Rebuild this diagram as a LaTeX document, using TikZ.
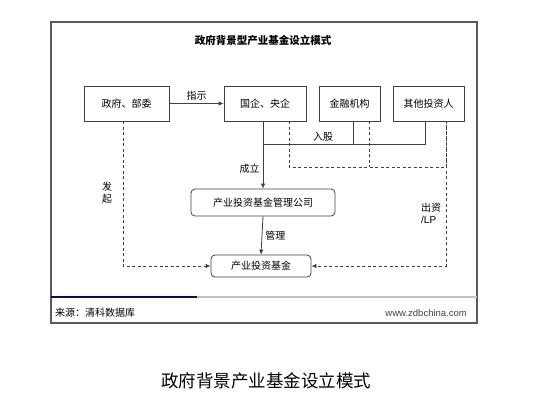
\documentclass[tikz,border=0pt]{standalone}
\usepackage{fontspec}
\setmainfont{Noto Sans CJK SC}
\newfontfamily\urlfont{Liberation Sans}
\usetikzlibrary{positioning, arrows.meta, calc}
\definecolor{linegray}{HTML}{404040}
\definecolor{framegray}{HTML}{5A5A5A}
\definecolor{barnavy}{HTML}{0A0A5E}
\definecolor{bargray}{HTML}{C4C4C4}

\begin{document}
\begin{tikzpicture}[x=1pt, y=-1pt,
    box/.style={draw=linegray, line width=0.8pt, minimum height=35pt, inner sep=0pt, font=\fontsize{10}{12}\selectfont},
    rbox/.style={box, rounded corners=4pt},
    lbl/.style={inner sep=1pt, font=\fontsize{10}{12}\selectfont},
    link/.style={draw=linegray, line width=0.8pt},
    dashlink/.style={link, dash pattern=on 3pt off 2.5pt},
    tip/.style={-{Latex[length=5pt,width=4.5pt]}}
  ]
  \useasboundingbox (0,0) rectangle (537,405);
  \draw[framegray, line width=1.2pt] (51,22) rectangle (477,323);
  \node[font=\bfseries\fontsize{10.5}{12}\selectfont] (title) at (263,41) {政府背景型产业基金设立模式};

  \node[box, minimum width=85pt] (gov) at (126.5,103.5) {政府、部委};
  \node[box, minimum width=82pt] (soe) at (265,103.5) {国企、央企};
  \node[box, minimum width=61pt] (fin) at (349.5,103.5) {金融机构};
  \node[box, minimum width=71pt] (other) at (428.5,103.5) {其他投资人};
  \node[rbox, minimum width=144pt, minimum height=27pt] (mgmt) at (263,202.5) {产业投资基金管理公司};
  \node[rbox, minimum width=100pt, minimum height=22pt] (fund) at (261,266) {产业投资基金};
  \coordinate (split) at (263,144);

  \draw[link, tip] (gov.east) -- node[lbl, above=2pt] {指示} (soe.west);
  \draw[link] ([xshift=-2pt]soe.south) -- (split) -| ([xshift=-3.5pt]other.south);
  \draw[link] ([xshift=3.5pt]fin.south) -- ++(0,23);
  \node[lbl] (rugu) at (323,137) {入股};
  \draw[link, tip] (split) -- node[lbl, left=2pt, pos=0.55] {成立} (mgmt.north);
  \draw[link, tip] (mgmt.south) -- node[lbl, right=2pt] {管理} (fund.north);

  \draw[dashlink] ([xshift=24pt]soe.south) -- ++(0,46) -| ([xshift=17.5pt]other.south);
  \draw[dashlink] ([xshift=19.5pt]fin.south) -- ++(0,46);
  \draw[dashlink, tip] ([xshift=17.5pt]other.south) |- (fund.east);
  \draw[dashlink, tip] ([xshift=-3.5pt]gov.south) |- (fund.west);
  \node[lbl, align=center] (faqi) at (107,193) {发\\起};
  \node[lbl, align=left, anchor=west] (lp) at (420,213) {出资\\{\urlfont /LP}};

  \draw[barnavy, line width=2pt] (51,297) -- (197,297);
  \draw[bargray, line width=2pt] (197,297) -- (477,297);
  \node[lbl, anchor=west] (src) at (54,313) {来源：清科数据库};
  \node[lbl, anchor=east, text=linegray, font=\urlfont\fontsize{9.5}{11}\selectfont] (web) at (468,313) {www.zdbchina.com};

  \node[font=\fontsize{17.5}{20}\selectfont] (caption) at (266,381) {政府背景产业基金设立模式};
\end{tikzpicture}
\end{document}
